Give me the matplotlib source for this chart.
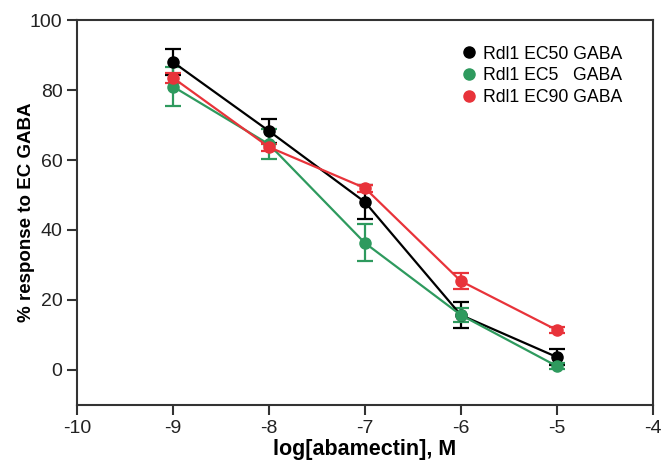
import matplotlib
matplotlib.use("Agg")
import matplotlib.pyplot as plt
from matplotlib.lines import Line2D

plt.rcParams['font.family'] = ['Liberation Sans', 'DejaVu Sans']
plt.rcParams['axes.unicode_minus'] = False

x = [-9, -8, -7, -6, -5]
ec50 = [88.0, 68.3, 48.0, 15.7, 3.7]
ec50_err = [3.8, 3.5, 5.0, 3.8, 2.3]
ec5 = [81.0, 64.5, 36.3, 15.7, 1.1]
ec5_err = [5.6, 4.3, 5.3, 2.0, 0.8]
ec90 = [83.5, 63.7, 52.0, 25.4, 11.4]
ec90_err = [1.5, 1.0, 1.0, 2.3, 0.8]

labels = ["Rdl1 EC50 GABA", "Rdl1 EC5   GABA", "Rdl1 EC90 GABA"]
colors = ["#000000", "#2e9a5e", "#e8333a"]

fig = plt.figure(figsize=(6.62, 4.66), dpi=100)
ax = fig.add_axes([0.1163, 0.131, 0.8697, 0.826])

for ys, es, c, lab in [(ec50, ec50_err, colors[0], labels[0]),
                       (ec5, ec5_err, colors[1], labels[1]),
                       (ec90, ec90_err, colors[2], labels[2])]:
    ax.errorbar(x, ys, yerr=es, color=c, marker='o', markersize=8, lw=1.6,
                capsize=6, capthick=1.6, elinewidth=1.6, label=lab)

ax.set_xlim(-10, -4)
ax.set_ylim(-10, 100)
ax.set_xticks([-10, -9, -8, -7, -6, -5, -4])
ax.set_yticks([0, 20, 40, 60, 80, 100])
for s in ax.spines.values():
    s.set_color('#333333')
    s.set_linewidth(1.5)
ax.tick_params(direction='out', length=7, width=1.5, color='#333333',
               labelsize=14, labelcolor='#222222')
ax.set_xlabel("log[abamectin], M", fontsize=15.5, fontweight='bold', labelpad=2)
ax.set_ylabel("% response to EC GABA", fontsize=13.5, fontweight='bold', labelpad=-4)

h2 = [Line2D([], [], marker='o', ls='none', color=c, markersize=8) for c in colors]
ax.legend(h2, labels, loc='upper right', bbox_to_anchor=(0.975, 0.975), frameon=False,
          fontsize=12.7, handletextpad=0.2, labelspacing=0.28, handlelength=1.2)

fig.savefig("out.png", dpi=100)
